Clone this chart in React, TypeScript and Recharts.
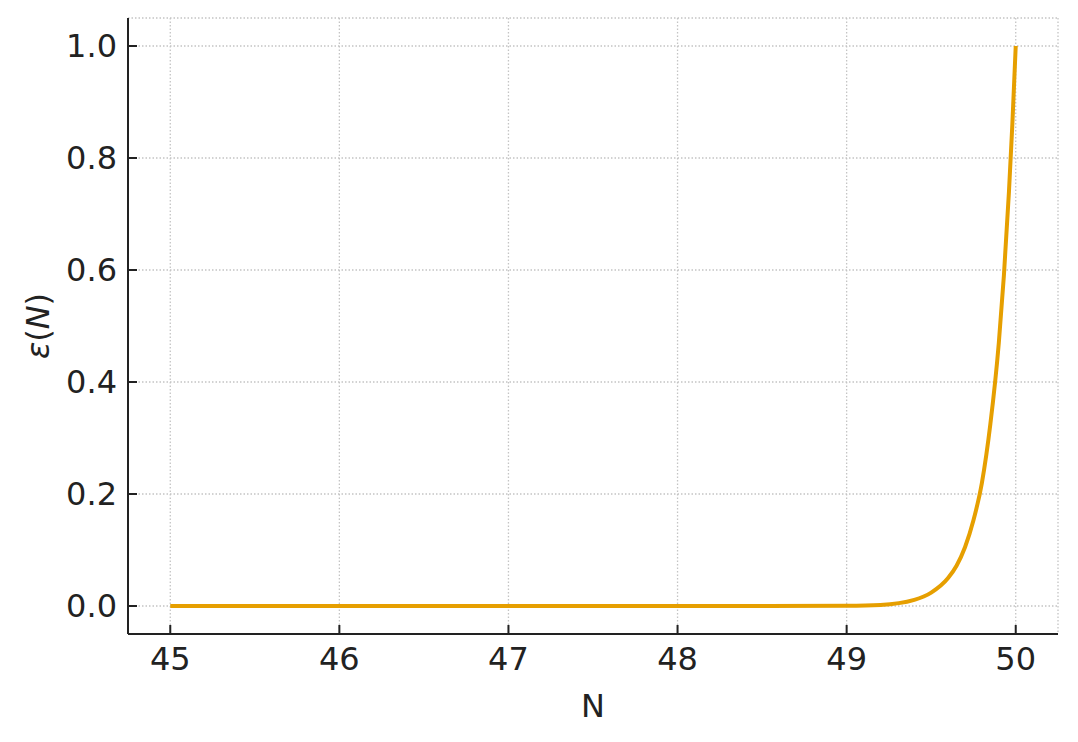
import React from 'react';
import { LineChart, Line, XAxis, YAxis, CartesianGrid } from 'recharts';

// values
const nValues = [45, 46, 47, 48, 48.5, 49, 49.2, 49.4, 49.5, 49.6, 49.65, 49.7, 49.75, 49.8, 49.85, 49.9, 49.93, 49.96, 49.98, 50];
const epsValues = [0, 0, 0, 0, 0.00002, 0.0006, 0.002, 0.011, 0.024, 0.05, 0.072, 0.105, 0.153, 0.22, 0.325, 0.47, 0.59, 0.74, 0.86, 1.0];
const xTicks = [45, 46, 47, 48, 49, 50];
const yTicks = [0, 0.2, 0.4, 0.6, 0.8, 1.0];

const data = nValues.map((n, i) => ({ n, eps: epsValues[i] }));

const FONT = '"DejaVu Sans", sans-serif';
const INK = '#222222';
const TICK_LEN = 9;
const X_MARGIN = 13;
const Y_MARGIN = 11;

// matplotlib-style inward ticks
const XTick = (props: any) => {
    const { x, y, payload } = props;
    const axisY = y - X_MARGIN;
    return (
        <g>
            <line x1={x} x2={x} y1={axisY} y2={axisY - TICK_LEN} stroke={INK} strokeWidth={2} />
            <text x={x} y={y} dy="0.71em" textAnchor="middle" fontFamily={FONT} fontSize={32} fill={INK}>
                {payload.value}
            </text>
        </g>
    );
};

const YTick = (props: any) => {
    const { x, y, payload } = props;
    const axisX = x + Y_MARGIN;
    return (
        <g>
            <line x1={axisX} x2={axisX + TICK_LEN} y1={y} y2={y} stroke={INK} strokeWidth={2} />
            <text x={x} y={y} dy="0.355em" textAnchor="end" fontFamily={FONT} fontSize={32} fill={INK}>
                {Number(payload.value).toFixed(1)}
            </text>
        </g>
    );
};

const YLabel = (props: any) => {
    const vb = props.viewBox || {};
    const cx = 38;
    const cy = vb.y + vb.height / 2;
    return (
        <text
            x={cx}
            y={cy}
            transform={`rotate(-90, ${cx}, ${cy})`}
            textAnchor="middle"
            dominantBaseline="central"
            fontFamily={FONT}
            fontSize={32}
            fill={INK}
        >
            <tspan fontStyle="italic">ε</tspan>
            <tspan>(</tspan>
            <tspan fontStyle="italic">N</tspan>
            <tspan>)</tspan>
        </text>
    );
};

export default function App() {
    return (
        <div>
            <style>{`body{margin:0}`}</style>
            <LineChart width={1078} height={742} data={data} margin={{ top: 18, right: 20, bottom: 0, left: 0 }}>
                <CartesianGrid stroke="#c4c4c4" strokeWidth={1.3} strokeDasharray="1.5 2" />
                <XAxis
                    dataKey="n"
                    type="number"
                    domain={[44.75, 50.25]}
                    ticks={xTicks}
                    allowDataOverflow
                    height={108}
                    axisLine={{ stroke: INK, strokeWidth: 2 }}
                    tickLine={false}
                    tickSize={0}
                    tickMargin={X_MARGIN}
                    tick={<XTick />}
                    label={{ value: 'N', position: 'insideBottom', offset: 25, fill: INK, fontSize: 32, fontFamily: FONT }}
                />
                <YAxis
                    type="number"
                    domain={[-0.05, 1.05]}
                    ticks={yTicks}
                    allowDataOverflow
                    width={128}
                    axisLine={{ stroke: INK, strokeWidth: 2 }}
                    tickLine={false}
                    tickSize={0}
                    tickMargin={Y_MARGIN}
                    tick={<YTick />}
                    label={<YLabel />}
                />
                <Line
                    type="monotone"
                    dataKey="eps"
                    stroke="#E69F00"
                    strokeWidth={4}
                    dot={false}
                    isAnimationActive={false}
                />
            </LineChart>
        </div>
    );
}
